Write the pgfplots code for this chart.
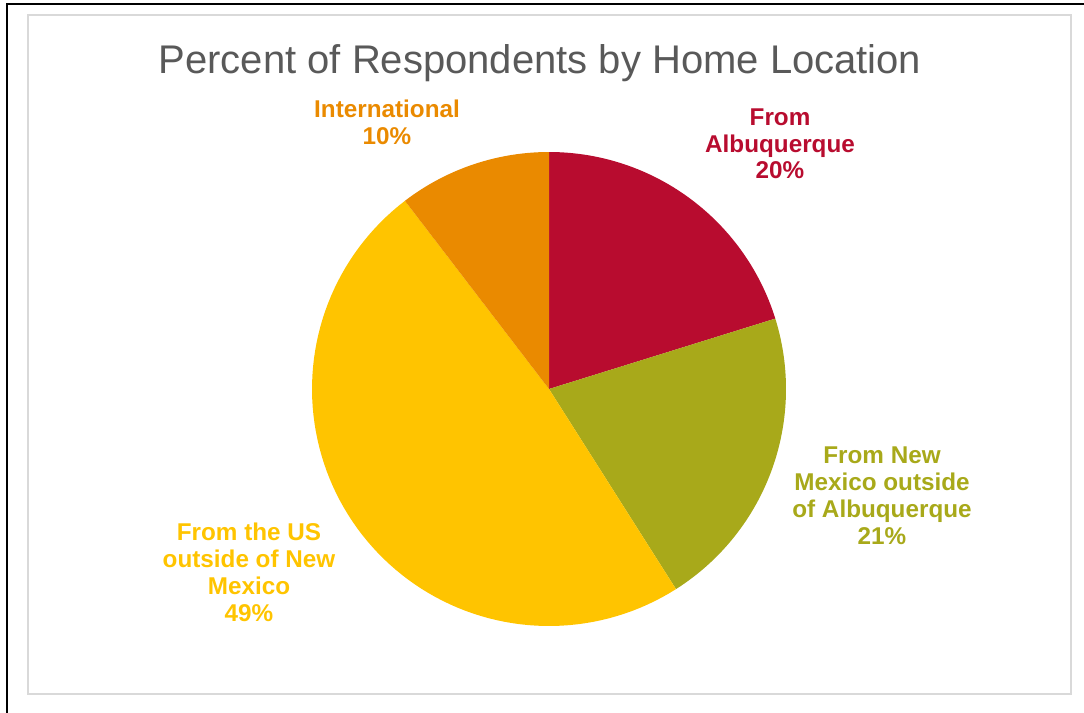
\documentclass[border=0pt]{standalone}
\usepackage{pgfplots}
\pgfplotsset{compat=1.18}
\usepackage{fontspec}
\setmainfont{Liberation Sans}
\definecolor{cRed}{RGB}{184,12,47}
\definecolor{cOlive}{RGB}{168,169,26}
\definecolor{cYellow}{RGB}{255,196,0}
\definecolor{cOrange}{RGB}{234,138,0}
\definecolor{cTitle}{RGB}{89,89,89}
\definecolor{cFrame}{RGB}{217,217,217}
% pie geometry in pixel units
\def\cx{549}\def\cy{389}\def\rr{237}
% slice: start cumulative %, end cumulative %, colour
\newcommand{\slice}[3]{%
  \pgfmathsetmacro{\aS}{90-3.6*#2}%
  \pgfmathsetmacro{\aE}{90-3.6*#1}%
  \addplot[fill=#3, draw=none, domain=\aS:\aE, samples=90, variable=\t]
    ({\cx+\rr*cos(\t)},{\cy-\rr*sin(\t)}) -- (axis cs:\cx,\cy) -- cycle;}
\begin{document}
\begin{tikzpicture}
\begin{axis}[
  scale only axis, width=813pt, height=534.75pt,
  xmin=0, xmax=1084, ymin=0, ymax=713, y dir=reverse,
  hide axis, clip=false]
% frames
\draw[black, line width=1.6pt] (axis cs:7,713) -- (axis cs:7,4) -- (axis cs:1084,4);
\draw[cFrame, line width=1.3pt] (axis cs:28,15) rectangle (axis cs:1071,694);
% data: From Albuquerque 20.2, NM outside ABQ 20.8, US outside NM 48.6, International 10.4
\slice{0}{20.2}{cRed}
\slice{20.2}{41.0}{cOlive}
\slice{41.0}{89.6}{cYellow}
\slice{89.6}{100}{cOrange}
% title
\node[anchor=base, text=cTitle, font=\fontsize{30}{36}\selectfont] at (axis cs:540,74) {Percent of Respondents by Home Location};
% labels
\begin{scope}[every node/.style={anchor=base, font=\fontsize{18.2}{22}\selectfont\bfseries}]
\node[text=cOrange] at (axis cs:387,118) {International};
\node[text=cOrange] at (axis cs:387,145) {10\%};
\node[text=cRed] at (axis cs:780,126) {From};
\node[text=cRed] at (axis cs:780,152) {Albuquerque};
\node[text=cRed] at (axis cs:780,179) {20\%};
\node[text=cOlive] at (axis cs:882,463) {From New};
\node[text=cOlive] at (axis cs:882,490) {Mexico outside};
\node[text=cOlive] at (axis cs:882,517) {of Albuquerque};
\node[text=cOlive] at (axis cs:882,544) {21\%};
\node[text=cYellow] at (axis cs:249,540) {From the US};
\node[text=cYellow] at (axis cs:249,567) {outside of New};
\node[text=cYellow] at (axis cs:249,594) {Mexico};
\node[text=cYellow] at (axis cs:249,621) {49\%};
\end{scope}
\end{axis}
\pgfresetboundingbox
\path (current axis.south west) rectangle (current axis.north east);
\end{tikzpicture}
\end{document}
